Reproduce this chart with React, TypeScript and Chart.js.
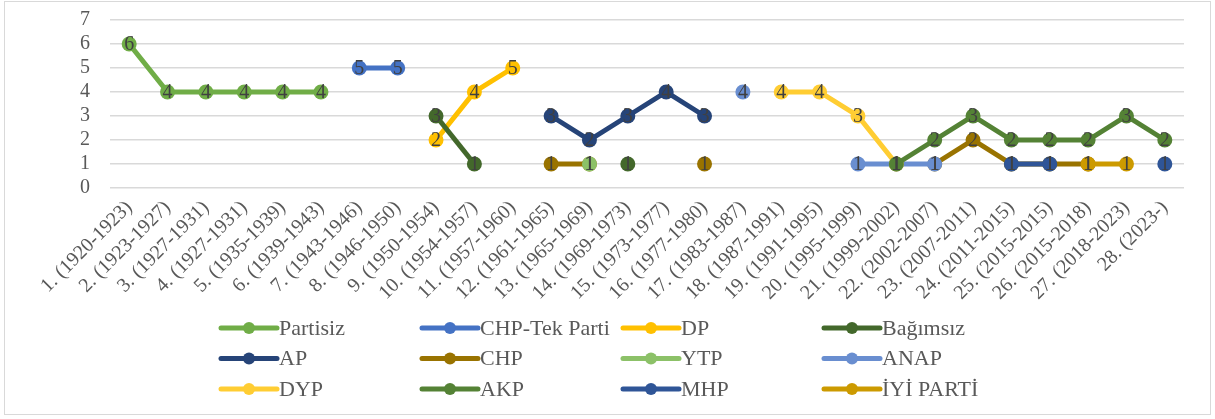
import React, { useEffect, useRef } from 'react';
import { Chart, registerables } from 'chart.js';

Chart.register(...registerables);

const categories = [
  '1. (1920-1923)', '2. (1923-1927)', '3. (1927-1931)', '4. (1927-1931)', '5. (1935-1939)',
  '6. (1939-1943)', '7. (1943-1946)', '8. (1946-1950)', '9. (1950-1954)', '10. (1954-1957)',
  '11. (1957-1960)', '12. (1961-1965)', '13. (1965-1969)', '14. (1969-1973)', '15. (1973-1977)',
  '16. (1977-1980)', '17. (1983-1987)', '18. (1987-1991)', '19. (1991-1995)', '20. (1995-1999)',
  '21. (1999-2002)', '22. (2002-2007)', '23. (2007-2011)', '24. (2011-2015)', '25. (2015-2015)',
  '26. (2015-2018)', '27. (2018-2023)', '28. (2023-)',
];

const yTicks = [0, 1, 2, 3, 4, 5, 6, 7];

const N = null;
const partisiz = [6, 4, 4, 4, 4, 4, N, N, N, N, N, N, N, N, N, N, N, N, N, N, N, N, N, N, N, N, N, N];
const chpTekParti = [N, N, N, N, N, N, 5, 5, N, N, N, N, N, N, N, N, N, N, N, N, N, N, N, N, N, N, N, N];
const dp = [N, N, N, N, N, N, N, N, 2, 4, 5, N, N, N, N, N, N, N, N, N, N, N, N, N, N, N, N, N];
const bagimsiz = [N, N, N, N, N, N, N, N, 3, 1, N, N, N, 1, N, N, N, N, N, N, N, N, N, N, N, N, N, N];
const ap = [N, N, N, N, N, N, N, N, N, N, N, 3, 2, 3, 4, 3, N, N, N, N, N, N, N, N, N, N, N, N];
const chp = [N, N, N, N, N, N, N, N, N, N, N, 1, 1, N, N, 1, N, N, N, N, N, 1, 2, 1, 1, 1, N, N];
const ytp = [N, N, N, N, N, N, N, N, N, N, N, N, 1, N, N, N, N, N, N, N, N, N, N, N, N, N, N, N];
const anap = [N, N, N, N, N, N, N, N, N, N, N, N, N, N, N, N, 4, N, N, 1, 1, 1, N, N, N, N, N, N];
const dyp = [N, N, N, N, N, N, N, N, N, N, N, N, N, N, N, N, N, 4, 4, 3, 1, N, N, N, N, N, N, N];
const akp = [N, N, N, N, N, N, N, N, N, N, N, N, N, N, N, N, N, N, N, N, 1, 2, 3, 2, 2, 2, 3, 2];
const mhp = [N, N, N, N, N, N, N, N, N, N, N, N, N, N, N, N, N, N, N, N, N, N, N, 1, 1, N, N, 1];
const iyiParti = [N, N, N, N, N, N, N, N, N, N, N, N, N, N, N, N, N, N, N, N, N, N, N, N, N, 1, 1, N];

const seriesNames = ['Partisiz', 'CHP-Tek Parti', 'DP', 'Bağımsız', 'AP', 'CHP', 'YTP', 'ANAP', 'DYP', 'AKP', 'MHP', 'İYİ PARTİ'];
const seriesData = [partisiz, chpTekParti, dp, bagimsiz, ap, chp, ytp, anap, dyp, akp, mhp, iyiParti];
const seriesColors = ['#70AD47', '#4472C4', '#FFC000', '#43682B', '#264478', '#997300', '#8CC168', '#698ED0', '#FFCD33', '#548235', '#2F5597', '#CC9A00'];

const FONT = "'Liberation Serif', 'Times New Roman', serif";

const dataLabelPlugin = {
  id: 'dataLabelsCenter',
  afterDatasetsDraw(chart: any) {
    const ctx = chart.ctx;
    ctx.save();
    ctx.font = `20px ${FONT}`;
    ctx.fillStyle = '#404040';
    ctx.textAlign = 'center';
    ctx.textBaseline = 'middle';
    chart.data.datasets.forEach((ds: any, i: number) => {
      const meta = chart.getDatasetMeta(i);
      meta.data.forEach((el: any, j: number) => {
        const v = ds.data[j];
        if (v === null || v === undefined) return;
        ctx.fillText(String(v), el.x, el.y + 1);
      });
    });
    ctx.restore();
  },
};

const legendAndBorderPlugin = {
  id: 'gridLegend',
  afterDraw(chart: any) {
    const ctx = chart.ctx;
    ctx.save();
    // outer border
    ctx.strokeStyle = '#D9D9D9';
    ctx.lineWidth = 1;
    ctx.strokeRect(4.5, 1.5, 1206, 413);
    // legend grid
    const colStart = 221;
    const colStep = 201;
    const rowStart = 328;
    const rowStep = 30.5;
    const lineLen = 56;
    ctx.font = `22px ${FONT}`;
    ctx.textAlign = 'left';
    ctx.textBaseline = 'middle';
    seriesNames.forEach((name, i) => {
      const c = i % 4;
      const r = Math.floor(i / 4);
      const x = colStart + c * colStep;
      const y = rowStart + r * rowStep;
      ctx.strokeStyle = seriesColors[i];
      ctx.lineWidth = 5;
      ctx.lineCap = 'round';
      ctx.beginPath();
      ctx.moveTo(x, y);
      ctx.lineTo(x + lineLen, y);
      ctx.stroke();
      ctx.fillStyle = seriesColors[i];
      ctx.beginPath();
      ctx.arc(x + lineLen / 2, y, 6, 0, Math.PI * 2);
      ctx.fill();
      ctx.fillStyle = '#595959';
      ctx.fillText(name, x + lineLen + 2, y + 1);
    });
    ctx.restore();
  },
};

export default function App() {
  const canvasRef = useRef<HTMLCanvasElement | null>(null);

  useEffect(() => {
    if (!canvasRef.current) return;
    const chart = new Chart(canvasRef.current, {
      type: 'line',
      data: {
        labels: categories,
        datasets: seriesNames.map((name, i) => ({
          label: name,
          data: seriesData[i],
          borderColor: seriesColors[i],
          backgroundColor: seriesColors[i],
          pointBackgroundColor: seriesColors[i],
          pointBorderColor: seriesColors[i],
          borderWidth: 5,
          pointRadius: 7.5,
          pointBorderWidth: 0,
          pointHoverRadius: 7.5,
          spanGaps: false,
          fill: false,
          tension: 0,
          order: seriesNames.length - i,
        })),
      },
      options: {
        animation: false,
        responsive: true,
        maintainAspectRatio: false,
        layout: { padding: { top: 20, right: 31, left: 0, bottom: 0 } },
        plugins: {
          legend: { display: false },
          tooltip: { enabled: false },
        },
        scales: {
          x: {
            type: 'category',
            offset: true,
            grid: { display: false, drawTicks: false },
            border: { display: false },
            ticks: {
              color: '#595959',
              font: { family: FONT, size: 20 },
              minRotation: 45,
              maxRotation: 45,
              autoSkip: false,
              padding: 8,
            },
            afterFit: (s: any) => { s.height = 231; },
          },
          y: {
            min: yTicks[0],
            max: yTicks[yTicks.length - 1],
            afterBuildTicks: (s: any) => { s.ticks = yTicks.map((v) => ({ value: v })); },
            grid: { color: '#D9D9D9', lineWidth: 1.5, drawTicks: true, tickLength: 17, tickColor: 'rgba(0,0,0,0)' },
            border: { display: false },
            ticks: {
              stepSize: 1,
              autoSkip: false,
              color: '#595959',
              font: { family: FONT, size: 20 },
              padding: 3,
            },
            afterFit: (s: any) => { s.width = 110; },
          },
        },
      },
      plugins: [dataLabelPlugin, legendAndBorderPlugin],
    });
    return () => chart.destroy();
  }, []);

  return (
    <div style={{ position: 'absolute', left: 0, top: 0, width: 1215, height: 419, background: '#fff' }}>
      <canvas ref={canvasRef} />
    </div>
  );
}
